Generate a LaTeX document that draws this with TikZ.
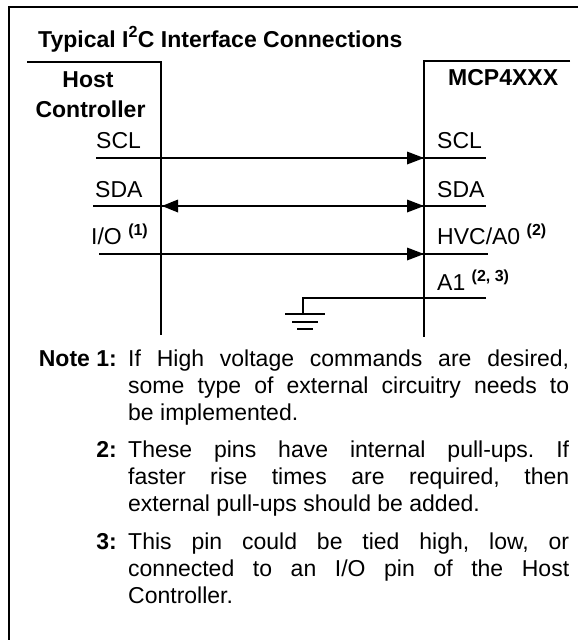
\documentclass[tikz,border=0pt]{standalone}
\usepackage{fontspec}
\setmainfont{Liberation Sans}
\usetikzlibrary{calc}
\frenchspacing
\newcommand{\pinref}[1]{\raisebox{8.5pt}{\fontsize{16}{16}\selectfont\bfseries #1}}
\begin{document}
\begin{tikzpicture}[x=1pt,y=-1pt,font=\fontsize{23}{27}\selectfont]
    \tikzstyle{every node}+=[inner sep=0pt]
    \tikzstyle{wire}=[black,line width=2pt]
    \tikzstyle{lbl}=[anchor=base west]
    \tikzstyle{notelbl}=[anchor=base east,font=\fontsize{23}{27}\selectfont\bfseries]
    \tikzstyle{notetxt}=[anchor=base west,text width=441pt,align=justify]
    \useasboundingbox (0,0) rectangle (578,640);
    \coordinate (frameTL) at (8.5,7);
    \coordinate (frameTR) at (578,7);
    \coordinate (frameB) at (8.5,640);
    \draw [wire] (frameB) -- (frameTL) -- (frameTR);
    \draw (38,47) node [lbl,font=\fontsize{23}{27}\selectfont\bfseries] (title) {Typical I\textsuperscript{2}C Interface Connections};
    \coordinate (hostTL) at (27,62);
    \coordinate (hostTR) at (161,62);
    \coordinate (hostB) at (161,335);
    \draw [wire] (hostTL) -- (hostTR) -- (hostB);
    \coordinate (mcpTR) at (570,61);
    \coordinate (mcpTL) at (424,61);
    \coordinate (mcpB) at (424,337);
    \draw [wire] (mcpTR) -- (mcpTL) -- (mcpB);
    \draw (88,87) node [anchor=base,font=\fontsize{23}{27}\selectfont\bfseries] (host) {Host};
    \draw (90.5,117) node [anchor=base,font=\fontsize{23}{27}\selectfont\bfseries] (ctrl) {Controller};
    \draw (448,85) node [lbl,font=\fontsize{23}{27}\selectfont\bfseries] (mcp) {MCP4XXX};
    \draw (96,148) node [lbl] (hscl) {SCL};
    \draw (95,197) node [lbl] (hsda) {SDA};
    \draw (91,244) node [lbl] (hio) {I/O~\pinref{(1)}};
    \draw (437,148) node [lbl] (mscl) {SCL};
    \draw (437,197) node [lbl] (msda) {SDA};
    \draw (437,244) node [lbl] (mhvc) {HVC/A0~\pinref{(2)}};
    \draw (437,290) node [lbl] (maone) {A1~\pinref{(2, 3)}};
    \coordinate (sclL) at (96,158);
    \coordinate (sclR) at (486,158);
    \draw [wire] (sclL) -- (sclR);
    \fill [black] (sclL -| mcpB) -- ++(-17,-6.5) -- ++(0,13) -- cycle;
    \coordinate (sdaL) at (93,206);
    \coordinate (sdaR) at (486,206);
    \draw [wire] (sdaL) -- (sdaR);
    \fill [black] (sdaL -| mcpB) -- ++(-17,-6.5) -- ++(0,13) -- cycle;
    \fill [black] ($(sdaL -| hostB)+(1,0)$) -- ++(16,-6.5) -- ++(0,13) -- cycle;
    \coordinate (ioL) at (99,254);
    \coordinate (ioR) at (488,254);
    \draw [wire] (ioL) -- (ioR);
    \fill [black] (ioL -| mcpB) -- ++(-17,-6.5) -- ++(0,13) -- cycle;
    \coordinate (aoneL) at (303,298);
    \coordinate (aoneR) at (486,298);
    \coordinate (gnd) at (303,314);
    \draw [wire] (aoneR) -- (aoneL) -- (gnd);
    \draw [wire] ([xshift=-18pt]gnd) -- ([xshift=22pt]gnd);
    \draw [wire] ([xshift=-11pt,yshift=-8pt]gnd) -- ([xshift=15pt,yshift=-8pt]gnd);
    \draw [wire] ([xshift=-6pt,yshift=-15pt]gnd) -- ([xshift=10pt,yshift=-15pt]gnd);
    \draw (117,366) node [notelbl] (nlone) {Note 1:};
    \draw (128,366) node [notetxt] (ntone) {If High voltage commands are desired,\linebreak some type of external circuitry needs to\linebreak be implemented.};
    \draw (117,457.5) node [notelbl] (nltwo) {2:};
    \draw (128,457.5) node [notetxt] (nttwo) {These pins have internal pull-ups. If\linebreak faster rise times are required, then\linebreak external pull-ups should be added.};
    \draw (117,549) node [notelbl] (nlthree) {3:};
    \draw (128,549) node [notetxt] (ntthree) {This pin could be tied high, low, or\linebreak connected to an I/O pin of the Host\linebreak Controller.};
\end{tikzpicture}
\end{document}
